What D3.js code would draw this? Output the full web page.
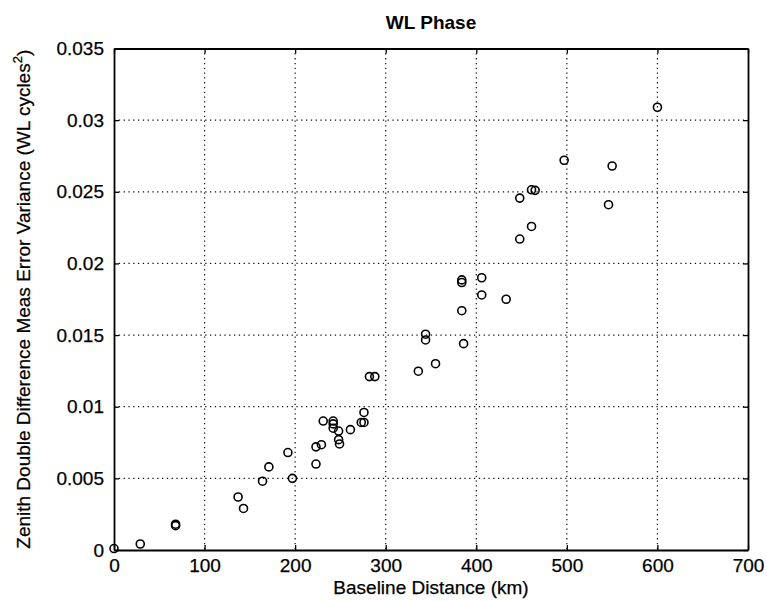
<!DOCTYPE html>
<html>
<head>
<meta charset="utf-8">
<script src="https://cdn.jsdelivr.net/npm/d3@7"></script>
<style>
  html, body { margin: 0; padding: 0; background: #fff; }
  svg { display: block; }
  text { font-family: "Liberation Sans", Arial, Helvetica, sans-serif; fill: #000; }
</style>
</head>
<body>
<svg id="chart" width="767" height="601"></svg>
<script>
// Baseline length (km) and zenith double-difference WL phase error variance (cycles^2)
const baselineKm = [
  0, 29, 68, 68, 137, 143, 164, 171, 192, 197,
  223, 223, 229, 231, 242, 242, 242, 248, 248, 249,
  261, 273, 276, 276, 282, 288, 336, 344, 344, 355,
  384, 384, 384, 386, 406, 406, 433, 448, 448, 461,
  461, 465, 497, 546, 550, 600
];
const variance = [
  0.0001, 0.00042, 0.0018, 0.0017, 0.0037, 0.0029, 0.0048, 0.0058, 0.0068, 0.0050,
  0.0072, 0.0060, 0.00735, 0.0090, 0.0090, 0.0088, 0.0085, 0.0083, 0.0077, 0.0074,
  0.0084, 0.0089, 0.0089, 0.0096, 0.0121, 0.0121, 0.01248, 0.01506, 0.01466, 0.0130,
  0.0167, 0.01885, 0.01867, 0.0144, 0.0190, 0.0178, 0.0175, 0.0217, 0.02456, 0.02258,
  0.02514, 0.0251, 0.0272, 0.0241, 0.0268, 0.0309
];
const xTicks = [0, 100, 200, 300, 400, 500, 600, 700];
const yTicks = [0, 0.005, 0.01, 0.015, 0.02, 0.025, 0.03, 0.035];
const yTickLabels = ["0", "0.005", "0.01", "0.015", "0.02", "0.025", "0.03", "0.035"];

const svg = d3.select("#chart");
const plot = { left: 114, right: 748, top: 48.5, bottom: 550 };

const x = d3.scaleLinear().domain([0, 700]).range([plot.left, plot.right]);
const y = d3.scaleLinear().domain([0, 0.035]).range([plot.bottom, plot.top]);

// dotted grid
const grid = svg.append("g");
grid.selectAll("line.vx").data(xTicks.slice(1, -1)).join("line")
  .attr("x1", d => x(d)).attr("x2", d => x(d))
  .attr("y1", plot.top).attr("y2", plot.bottom)
  .attr("stroke", "#111").attr("stroke-width", 1.2)
  .attr("stroke-dasharray", "1.3,3.5");
grid.selectAll("line.hy").data(yTicks.slice(1, -1)).join("line")
  .attr("y1", d => y(d)).attr("y2", d => y(d))
  .attr("x1", plot.left).attr("x2", plot.right)
  .attr("stroke", "#111").attr("stroke-width", 1.2)
  .attr("stroke-dasharray", "1.3,3.5");

// axes with inward ticks on all four sides
const fs = "19px";
const bottomAxis = d3.axisBottom(x).tickValues(xTicks).tickFormat(d3.format("d"))
  .tickSizeInner(-5).tickSizeOuter(0).tickPadding(9);
const gB = svg.append("g").attr("transform", `translate(0,${plot.bottom})`).call(bottomAxis);
const leftAxis = d3.axisLeft(y).tickValues(yTicks).tickFormat((d, i) => yTickLabels[i])
  .tickSizeInner(-5).tickSizeOuter(0).tickPadding(10);
const gL = svg.append("g").attr("transform", `translate(${plot.left},0)`).call(leftAxis);
const gT = svg.append("g").attr("transform", `translate(0,${plot.top})`)
  .call(d3.axisTop(x).tickValues(xTicks).tickFormat("").tickSizeInner(-5).tickSizeOuter(0));
const gR = svg.append("g").attr("transform", `translate(${plot.right},0)`)
  .call(d3.axisRight(y).tickValues(yTicks).tickFormat("").tickSizeInner(-5).tickSizeOuter(0));

[gB, gL, gT, gR].forEach(g => {
  g.select(".domain").attr("stroke", "#000").attr("stroke-width", 1.8);
  g.selectAll(".tick line").attr("stroke", "#000").attr("stroke-width", 1.3);
  g.selectAll("text").attr("font-size", fs)
    .attr("font-family", "'Liberation Sans', Arial, sans-serif").attr("fill", "#000")
    .attr("stroke", "#000").attr("stroke-width", 0.25);
});

// data points as open circles
svg.append("g").selectAll("circle").data(baselineKm).join("circle")
  .attr("cx", d => x(d))
  .attr("cy", (d, i) => y(variance[i]))
  .attr("r", 4)
  .attr("fill", "none")
  .attr("stroke", "#000")
  .attr("stroke-width", 1.6);

// title and axis labels
svg.append("text")
  .attr("x", (plot.left + plot.right) / 2).attr("y", 29)
  .attr("text-anchor", "middle").attr("font-size", "19px").attr("font-weight", "bold")
  .text("WL Phase");

svg.append("text")
  .attr("x", (plot.left + plot.right) / 2).attr("y", 594)
  .attr("text-anchor", "middle").attr("font-size", "19px")
  .attr("stroke", "#000").attr("stroke-width", 0.25)
  .text("Baseline Distance (km)");

const yl = svg.append("text")
  .attr("transform", `translate(30,${(plot.top + plot.bottom) / 2}) rotate(-90)`)
  .attr("text-anchor", "middle").attr("font-size", "19px")
  .attr("stroke", "#000").attr("stroke-width", 0.25);
yl.append("tspan").text("Zenith Double Difference Meas Error Variance (WL cycles");
yl.append("tspan").attr("font-size", "13px").attr("dy", "-8").text("2");
yl.append("tspan").attr("dy", "8").text(")");
</script>
</body>
</html>
